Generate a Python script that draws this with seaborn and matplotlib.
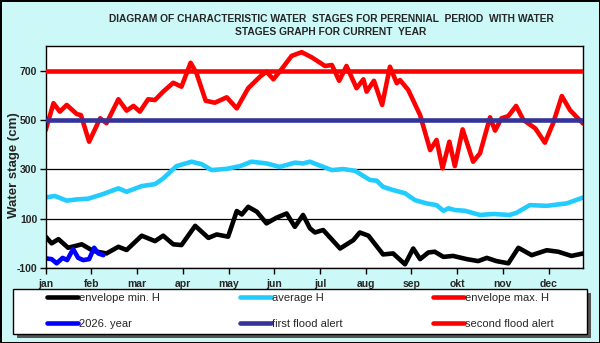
import numpy as np
import matplotlib
matplotlib.use('Agg')
import matplotlib.pyplot as plt
from matplotlib.patches import Rectangle
import seaborn as sns

sns.set_style('white')
plt.rcParams['font.family'] = ['Liberation Sans', 'DejaVu Sans']

# x positions in months from 1 jan (0 = jan, 11 = dec)
months = ['jan', 'feb', 'mar', 'apr', 'may', 'jun', 'jul', 'aug', 'sep', 'okt', 'nov', 'dec']

max_x = [0.00, 0.17, 0.31, 0.46, 0.68, 0.77, 0.95, 1.19, 1.33, 1.59, 1.77, 1.92, 2.06, 2.24, 2.39,
         2.57, 2.79, 2.97, 3.17, 3.30, 3.50, 3.70, 3.96, 4.18, 4.43, 4.69, 4.83, 4.98, 5.16, 5.38,
         5.60, 5.82, 6.11, 6.26, 6.42, 6.58, 6.80, 6.95, 7.02, 7.18, 7.36, 7.53, 7.68, 7.75, 7.93,
         8.19, 8.41, 8.55, 8.68, 8.83, 8.95, 9.12, 9.35, 9.50, 9.72, 9.83, 9.97, 10.12, 10.29,
         10.45, 10.71, 10.92, 11.10, 11.29, 11.47, 11.61, 11.76]
max_h = [459, 568, 534, 561, 524, 520, 412, 507, 487, 584, 538, 557, 534, 584, 581,
         615, 651, 635, 732, 689, 578, 570, 592, 547, 629, 676, 696, 665, 706, 760,
         775, 754, 719, 723, 659, 719, 629, 665, 615, 659, 561, 716, 649, 662, 622,
         520, 378, 419, 304, 412, 313, 462, 331, 365, 511, 457, 507, 516, 557,
         500, 466, 408, 487, 597, 540, 513, 485]

avg_x = [0.00, 0.20, 0.46, 0.68, 0.93, 1.26, 1.59, 1.77, 2.10, 2.39, 2.57, 2.86, 3.19, 3.41, 3.63,
         3.96, 4.25, 4.50, 4.83, 5.12, 5.45, 5.63, 5.78, 6.00, 6.26, 6.51, 6.77, 7.09, 7.24, 7.38,
         7.60, 7.86, 8.08, 8.33, 8.55, 8.70, 8.81, 8.95, 9.17, 9.50, 9.79, 10.15, 10.30, 10.59,
         10.96, 11.40, 11.76]
avg_h = [186, 192, 173, 178, 181, 200, 223, 209, 232, 240, 263, 313, 331, 321, 297,
         302, 313, 331, 324, 310, 327, 324, 331, 315, 297, 301, 294, 257, 254, 229,
         216, 203, 175, 162, 155, 132, 142, 135, 132, 115, 119, 115, 124, 155,
         152, 162, 186]

min_x = [0.00, 0.13, 0.28, 0.49, 0.79, 1.04, 1.33, 1.59, 1.77, 2.10, 2.39, 2.57, 2.79, 2.97, 3.27,
         3.56, 3.74, 3.99, 4.18, 4.29, 4.43, 4.62, 4.83, 5.05, 5.27, 5.45, 5.63, 5.78, 5.89, 6.07,
         6.44, 6.73, 6.87, 7.06, 7.38, 7.60, 7.86, 8.04, 8.19, 8.37, 8.51, 8.70, 8.91, 9.21, 9.46,
         9.65, 9.86, 10.12, 10.34, 10.63, 10.96, 11.21, 11.50, 11.76]
min_h = [27, 0, 17, -18, -4, -31, -41, -14, -27, 31, 9, 31, -4, -7, 71,
         22, 36, 27, 131, 117, 148, 128, 81, 104, 121, 67, 115, 61, 44, 54,
         -21, 13, 44, 31, -45, -41, -85, -21, -64, -37, -34, -55, -51, -64, -72,
         -59, -72, -81, -18, -48, -28, -34, -51, -41]

cur_x = [0.00, 0.13, 0.24, 0.37, 0.47, 0.60, 0.71, 0.82, 0.95, 1.06, 1.15, 1.26]
cur_h = [-61, -64, -81, -59, -68, -23, -59, -68, -64, -18, -41, -48]

first_alert = 500
second_alert = 700

W, H = 600, 343
fig = plt.figure(figsize=(6, 3.43), dpi=100)
fig.patch.set_facecolor('#cdf8f8')
fig.patch.set_edgecolor('black')
fig.patch.set_linewidth(2)

ax = fig.add_axes([45.7 / W, (H - 268) / H, (583.3 - 45.7) / W, (268 - 46) / H])
ax.set_facecolor('white')

lw = 3.3
sns.lineplot(x=min_x, y=min_h, ax=ax, color='black', lw=lw, label='envelope min. H', legend=False, sort=False)
sns.lineplot(x=avg_x, y=avg_h, ax=ax, color='#22ccff', lw=lw, label='average H', legend=False, sort=False)
sns.lineplot(x=max_x, y=max_h, ax=ax, color='#ff0000', lw=lw, label='envelope max. H', legend=False, sort=False)
sns.lineplot(x=cur_x, y=cur_h, ax=ax, color='#0000ff', lw=lw, label='2026. year', legend=False, sort=False)
ax.axhline(first_alert, color='#333399', lw=lw, label='first flood alert', zorder=4)
ax.axhline(second_alert, color='#ff0000', lw=lw, label='second flood alert', zorder=4)

for ln in ax.get_lines():
    ln.set_solid_joinstyle('round')
    ln.set_solid_capstyle('round')

ax.set_xlim(0, 11.76)
ax.set_ylim(-100, 800)
ax.set_xticks(range(12))
ax.set_xticklabels(months, fontsize=7.5, fontweight='bold')
ax.set_yticks([-100, 100, 300, 500, 700])
ax.set_yticklabels(['-100', '100', '300', '500', '700'], fontsize=7.5, fontweight='bold')
ax.tick_params(axis='both', direction='out', length=4, width=1, color='black', pad=2,
               bottom=True, left=True)
ax.tick_params(axis='x', pad=4)
ax.yaxis.grid(True, color='black', lw=0.9)
ax.set_axisbelow(True)
for s in ax.spines.values():
    s.set_color('black')
    s.set_linewidth(1)
ax.set_xlabel('')
ax.set_ylabel('')

fig.text(14 / W, 1 - 165 / H, 'Water stage (cm)', rotation=90, ha='center', va='center',
         fontsize=9.5, fontweight='bold')
fig.text(331 / W, 1 - 25.5 / H,
         'DIAGRAM OF CHARACTERISTIC WATER  STAGES FOR PERENNIAL  PERIOD  WITH WATER\nSTAGES GRAPH FOR CURRENT  YEAR',
         ha='center', va='center', multialignment='center', fontsize=7.4, fontweight='bold',
         linespacing=1.45)

# legend box with shadow
bx0, by0, bx1, by1 = 13, 289, 587, 334
fig.patches.append(Rectangle((bx0 / W + 4 / W, 1 - by1 / H - 4 / H), (bx1 - bx0) / W, (by1 - by0) / H,
                             transform=fig.transFigure, facecolor='#555555', edgecolor='none', zorder=1))
fig.patches.append(Rectangle((bx0 / W, 1 - by1 / H), (bx1 - bx0) / W, (by1 - by0) / H,
                             transform=fig.transFigure, facecolor='white', edgecolor='black', lw=1, zorder=2))

handles, labels = ax.get_legend_handles_labels()
hmap = dict(zip(labels, handles))
columns = [['envelope min. H', '2026. year'],
           ['average H', 'first flood alert'],
           ['envelope max. H', 'second flood alert']]
col_left = [47, 240, 433]
for names, xl in zip(columns, col_left):
    leg = fig.legend([hmap[k] for k in names], names, ncol=1, loc='upper left',
                     bbox_to_anchor=(xl / W, 1 - 293 / H), frameon=False, fontsize=8,
                     handlelength=2.8, handletextpad=0.1, borderpad=0, borderaxespad=0,
                     labelspacing=1.4)
    leg.set_zorder(5)

fig.savefig('out.png', dpi=100, facecolor=fig.get_facecolor(), edgecolor=fig.get_edgecolor())
